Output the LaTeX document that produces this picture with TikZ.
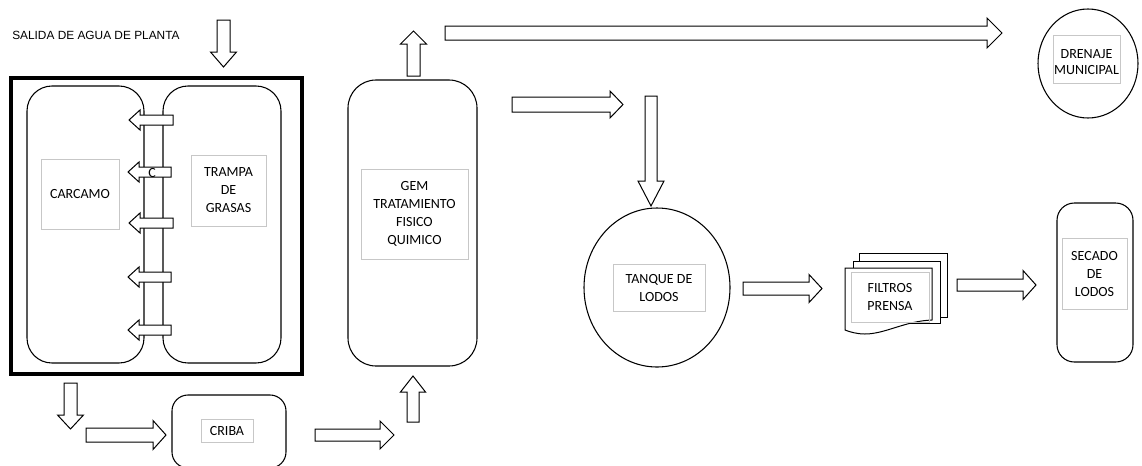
\documentclass[tikz,border=0pt]{standalone}
\usepackage{fontspec}
\setmainfont{Carlito}
\newfontfamily\arialf{Liberation Sans}
\usetikzlibrary{shapes.geometric}
\tikzset{
  blk/.style={draw, fill=white, line width=0.75pt, line join=miter},
  cont/.style={draw, line width=0.8pt, rounded corners=#1, inner sep=0pt},
  lbl/.style 2 args={draw=black!22, line width=0.6pt, minimum width=#1*0.75pt, minimum height=#2*0.75pt, align=center, inner sep=0pt, font=\fontsize{10.5}{13.5}\selectfont},
}
\newcommand\ArrH[6]{% tail, base, tip, yc, shaft half, head half
  \draw[blk] (#1,#4-#5) -- (#2,#4-#5) -- (#2,#4-#6) -- (#3,#4) -- (#2,#4+#6) -- (#2,#4+#5) -- (#1,#4+#5) -- cycle;}
\newcommand\ArrV[6]{% xc, tail, base, tip, shaft half, head half
  \draw[blk] (#1-#5,#2) -- (#1-#5,#3) -- (#1-#6,#3) -- (#1,#4) -- (#1+#6,#3) -- (#1+#5,#3) -- (#1+#5,#2) -- cycle;}
\begin{document}
\begin{tikzpicture}[x=0.75pt,y=-0.75pt]
\useasboundingbox (0,0) rectangle (1142,465);
\clip (0,0) rectangle (1142,465);
% title text
\node[anchor=west, inner sep=0pt, font=\arialf\fontsize{8.9}{10}\selectfont] (salida) at (12,35) {SALIDA DE AGUA DE PLANTA};
% outer box
\node[draw, line width=3pt, minimum width=291*0.75pt, minimum height=296*0.75pt, inner sep=0pt] (outer) at (156.5,226) {};
% containers
\node[cont=18.75pt, minimum width=117*0.75pt, minimum height=277*0.75pt] (carcamoR) at (85.5,224.5) {};
\node[cont=18.75pt, minimum width=118*0.75pt, minimum height=277*0.75pt] (trampaR) at (222,224.5) {};
\node[cont=21pt, minimum width=129*0.75pt, minimum height=286*0.75pt] (gemR) at (412.5,223) {};
\node[cont=12pt, minimum width=114*0.75pt, minimum height=73*0.75pt] (cribaR) at (229,431.5) {};
\node[cont=13pt, minimum width=76*0.75pt, minimum height=159*0.75pt] (secadoR) at (1095,282.5) {};
\node[ellipse, draw, line width=0.8pt, minimum width=146*0.75pt, minimum height=159*0.75pt, inner sep=0pt] (tanqueC) at (657,287.5) {};
\node[ellipse, draw, line width=0.8pt, minimum width=100*0.75pt, minimum height=109*0.75pt, inner sep=0pt] (drenajeC) at (1088,63.5) {};
% filtros prensa (multi document)
\draw[blk] (859,253) rectangle (947,317);
\draw[blk] (853,261) rectangle (940,323);
\draw[blk] (845,268) -- (932,268) -- (932,320) .. controls (905,321) and (885,334) .. (865,334) .. controls (857,334) and (850,332) .. (845,330) -- cycle;
% block arrows
\ArrV{223.5}{20}{52}{67}{6.5}{13}
\ArrH{173}{140}{129}{120}{5}{10}
\ArrH{171}{139}{128}{172}{5}{10}
\ArrH{173}{140}{129}{223}{5}{10}
\ArrH{171}{139}{128}{277}{5}{10}
\ArrH{171}{139}{128}{330}{5}{10}
\ArrV{70.5}{383}{415}{429}{6.5}{13}
\ArrH{86}{153}{166}{435}{7}{14.5}
\ArrH{315}{380}{394}{435}{6}{14}
\ArrV{413}{422}{392}{376}{6}{12.5}
\ArrV{413.5}{76}{44}{31}{6.5}{13}
\ArrH{445}{987}{1002}{33}{7}{15}
\ArrH{512}{610}{623}{104.5}{7.5}{13.5}
\ArrV{651}{96}{181}{206}{6}{13}
\ArrH{743}{809}{822}{288.5}{6.5}{14}
\ArrH{957}{1023}{1036}{285}{6}{14.5}
% small letter
\node[inner sep=0pt, font=\fontsize{10.5}{12}\selectfont] (cmark) at (152,173) {C};
% labels
\node[lbl={78}{70}] (carcamoL) at (80,194) {CARCAMO};
\node[lbl={75}{71}] (trampaL) at (228.5,190.5) {TRAMPA\\DE\\GRASAS};
\node[lbl={107}{90}] (gemL) at (414.5,214) {GEM\\TRATAMIENTO\\FISICO\\QUIMICO};
\node[lbl={52}{23}] (cribaL) at (227,430.5) {CRIBA};
\node[lbl={92}{47}] (tanqueL) at (659,287.5) {TANQUE DE\\LODOS};
\node[lbl={78}{50}] (filtrosL) at (890,297) {FILTROS\\PRENSA};
\node[lbl={65}{71}] (secadoL) at (1094.5,273.5) {SECADO\\DE\\LODOS};
\node[lbl={67}{48}] (drenajeL) at (1086.5,59) {};
\node[inner sep=0pt, align=center, font=\fontsize{10.5}{12}\selectfont] (drenajeT) at (1086.5,62) {DRENAJE\\MUNICIPAL};
\end{tikzpicture}
\end{document}
